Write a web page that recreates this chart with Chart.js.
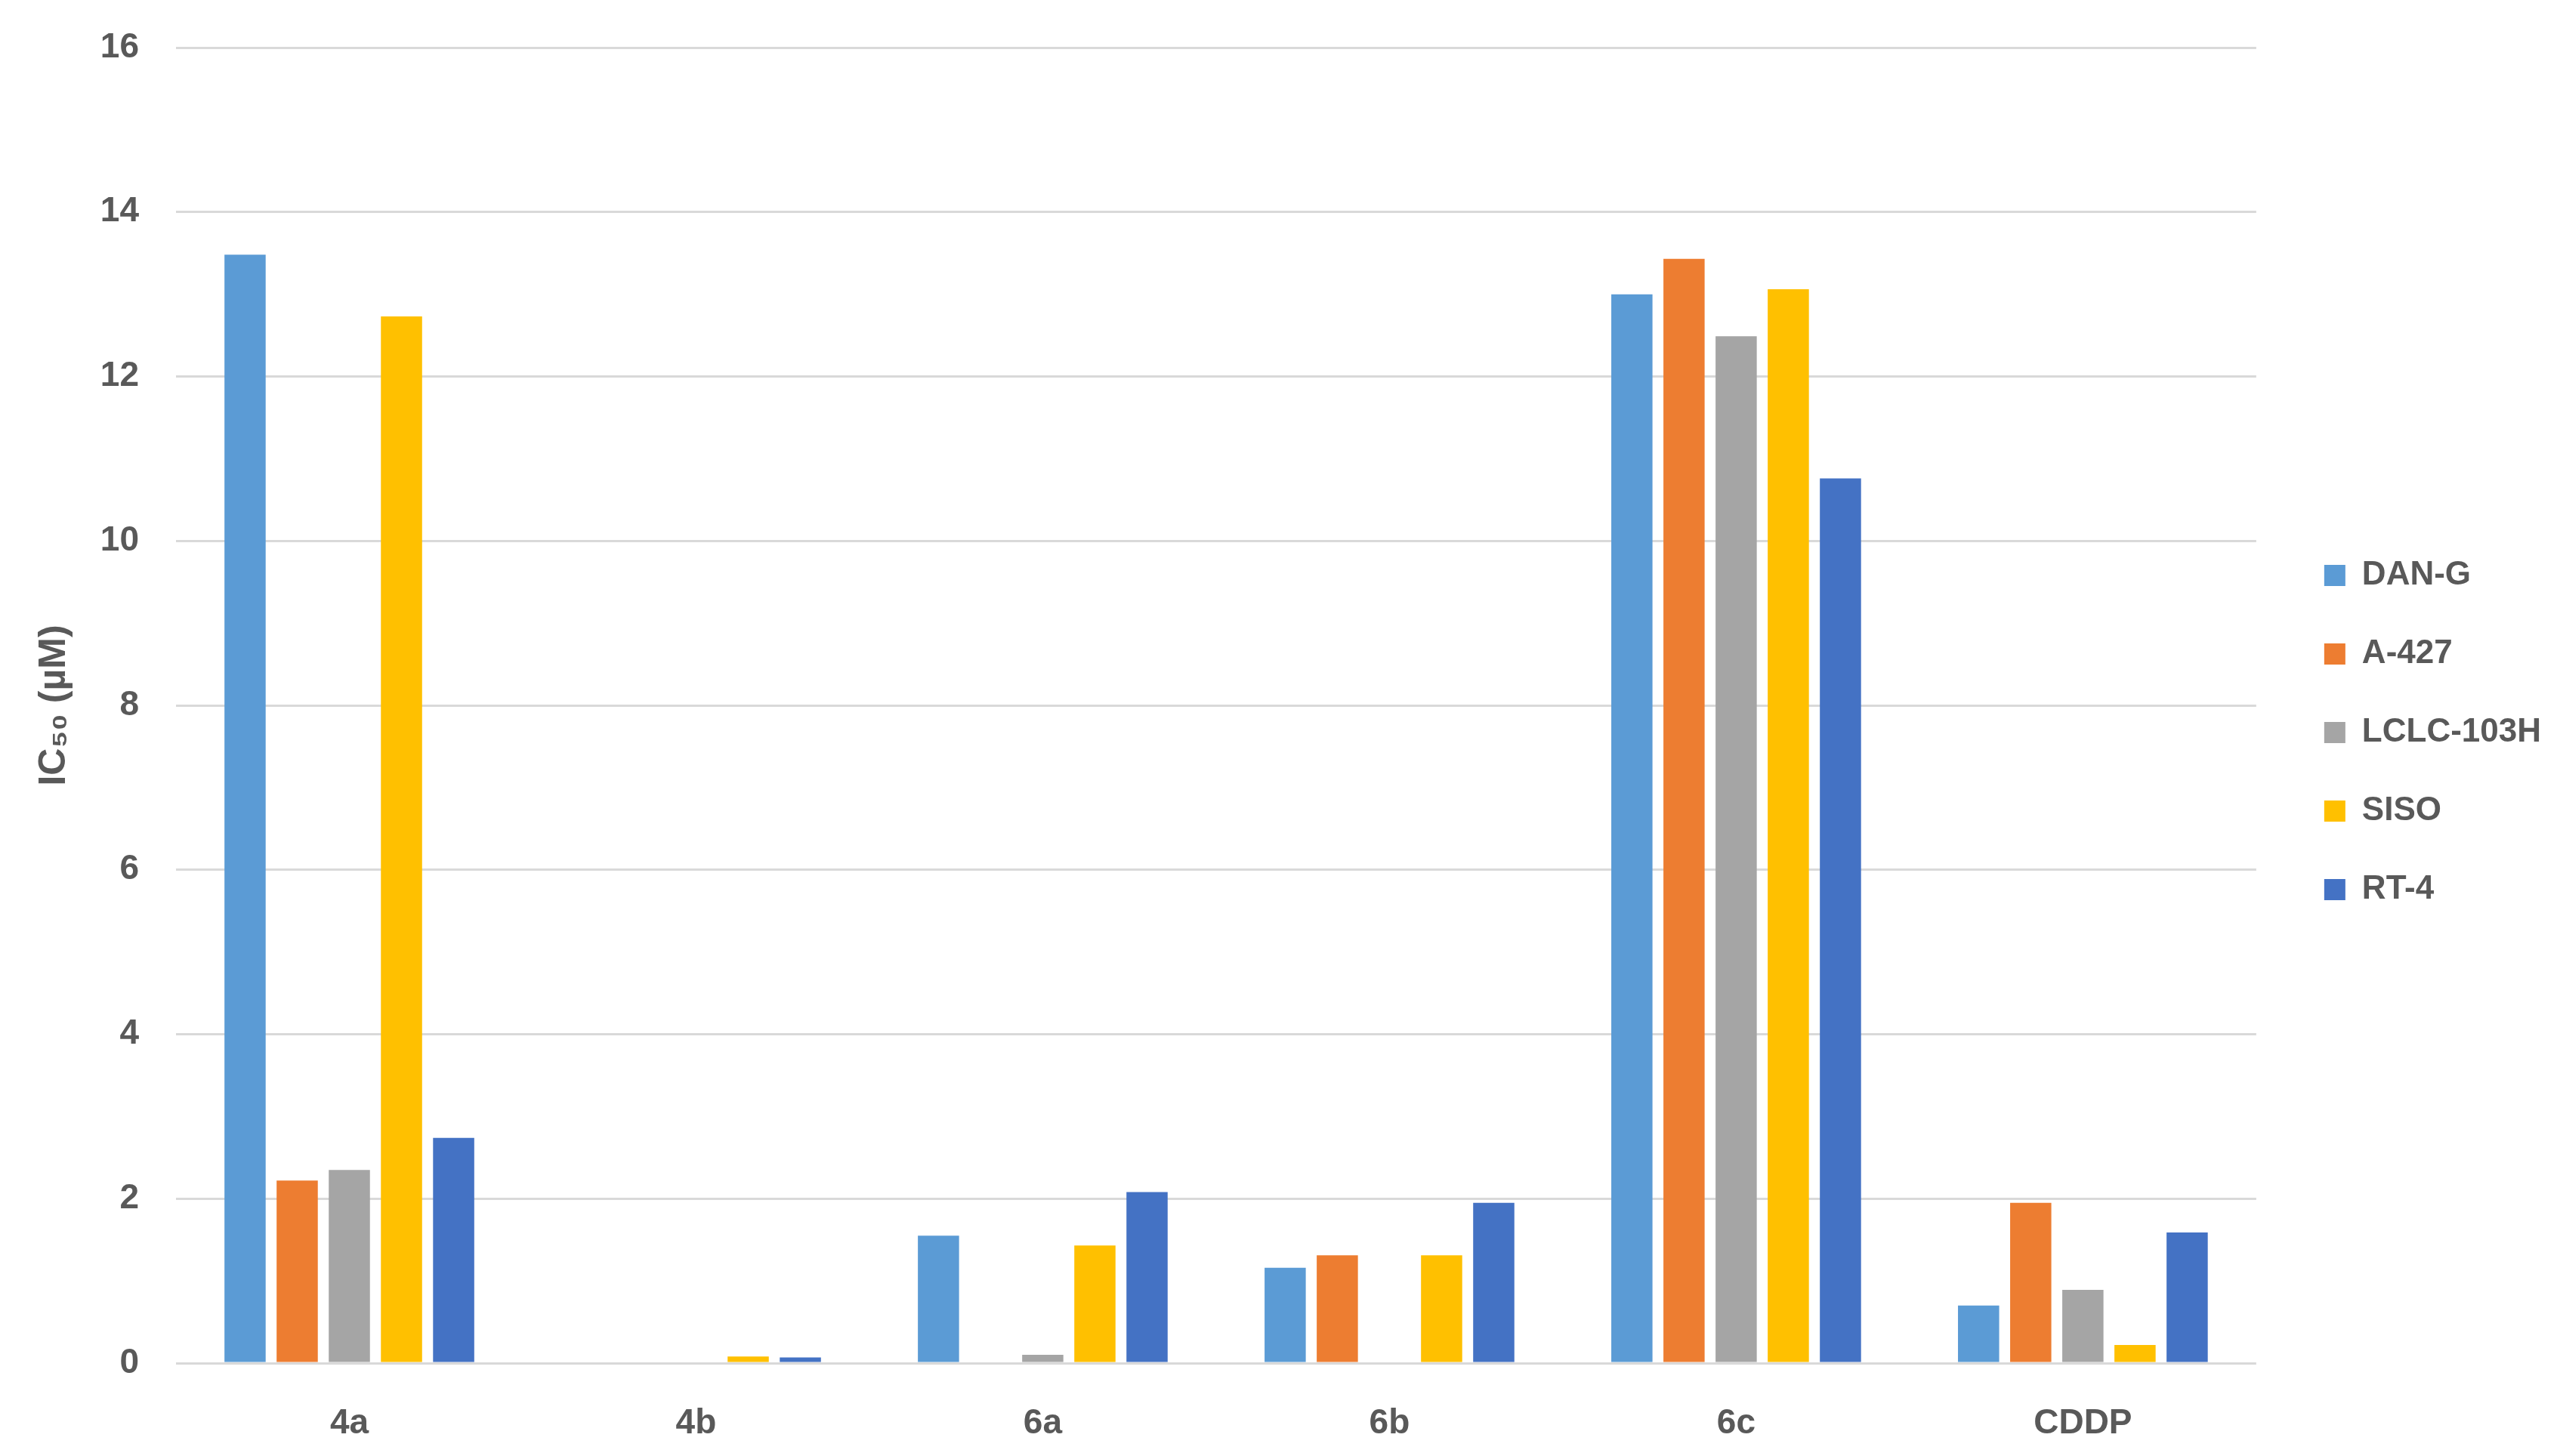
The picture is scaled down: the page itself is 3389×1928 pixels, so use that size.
<!DOCTYPE html>
<html>
<head>
<meta charset="utf-8">
<script src="https://cdn.jsdelivr.net/npm/chart.js@4.4.1/dist/chart.umd.min.js"></script>
<style>
  html, body { margin:0; padding:0; background:#fff; }
  #wrap { width:3389px; height:1928px; position:relative; }
</style>
</head>
<body>
<div id="wrap"><canvas id="chart"></canvas></div>
<script>
    // compounds on the x axis
    const compounds = ['4a', '4b', '6a', '6b', '6c', 'CDDP'];
    // IC50 values (µM) per cell line, null where no bar is drawn
    const danG   = [13.48, null, 1.55, 1.16, 13.0, 0.70];
    const a427   = [2.22, null, null, 1.31, 13.43, 1.95];
    const lclc   = [2.35, null, 0.10, null, 12.49, 0.89];
    const siso   = [12.73, 0.08, 1.43, 1.31, 13.06, 0.22];
    const rt4    = [2.74, 0.07, 2.08, 1.95, 10.76, 1.59];
    const yTicks = [0, 2, 4, 6, 8, 10, 12, 14, 16];

    const textCol = '#595959';
    const fam = '"Liberation Sans", Arial, sans-serif';

    const mk = (label, data, color) => ({
      label, data, backgroundColor: color, borderWidth: 0,
      categoryPercentage: 0.752, barPercentage: 0.79
    });

    // push the legend a bit to the right, like the excel original
    const nudgeLegend = {
      id: 'nudgeLegend',
      afterLayout(c){ c.legend.left += 30; c.legend.right += 30; }
    };

    const ctx = document.getElementById('chart').getContext('2d');
    const chart = new Chart(ctx, {
      type: 'bar',
      data: {
        labels: compounds,
        datasets: [
          mk('DAN-G', danG, '#5B9BD5'),
          mk('A-427', a427, '#ED7D31'),
          mk('LCLC-103H', lclc, '#A5A5A5'),
          mk('SISO', siso, '#FFC000'),
          mk('RT-4', rt4, '#4472C4')
        ]
      },
      plugins: [nudgeLegend],
      options: {
        responsive: true, maintainAspectRatio: false, animation: false,
        devicePixelRatio: 1,
        layout: { padding: { top: 12, right: 45, bottom: 0, left: 0 } },
        plugins: {
          tooltip: { enabled: false },
          legend: {
            position: 'right',
            labels: {
              boxWidth: 28, boxHeight: 28, padding: 60,
              color: textCol,
              font: { family: fam, size: 44, weight: 'bold' }
            }
          }
        },
        scales: {
          x: {
            grid: { display: false },
            border: { display: false },
            ticks: { color: textCol, padding: 45, font: { family: fam, size: 46, weight: 'bold' } },
            afterFit: s => { s.height = 123; }
          },
          y: {
            min: 0, max: 16,
            afterBuildTicks: s => { s.ticks = yTicks.map(v => ({ value: v })); },
            grid: { color: '#D9D9D9', lineWidth: 3, drawTicks: false },
            border: { display: false },
            ticks: { color: textCol, padding: 49, font: { family: fam, size: 46, weight: 'bold' } },
            title: {
              display: true, text: 'IC₅₀ (µM)', color: textCol,
              padding: { top: 42, bottom: 0 },
              font: { family: fam, size: 50, weight: 'bold' }
            },
            afterFit: s => { s.width = 233; s.paddingTop = 63; }
          }
        }
      }
    });
</script>
</body>
</html>
